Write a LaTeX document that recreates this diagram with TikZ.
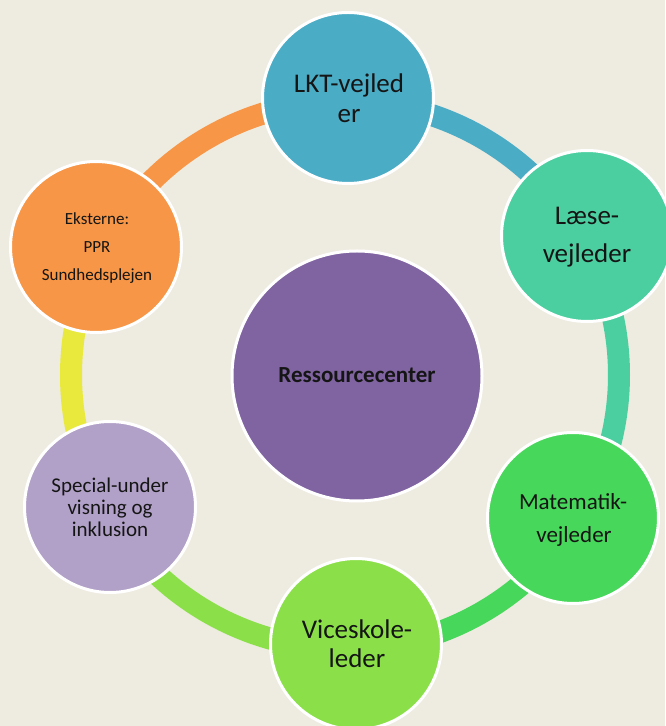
\documentclass[tikz,border=0pt]{standalone}
\usepackage{fontspec}
\setmainfont{Carlito}
\usetikzlibrary{calc}
\definecolor{bgc}{HTML}{EEEBE1}
\definecolor{cblue}{HTML}{4BACC6}
\definecolor{cteal}{HTML}{4BCFA0}
\definecolor{cgreen}{HTML}{47D75A}
\definecolor{clime}{HTML}{8BE04A}
\definecolor{clav}{HTML}{B1A0C7}
\definecolor{corange}{HTML}{F79646}
\definecolor{cpurple}{HTML}{8064A2}
\definecolor{cyellow}{HTML}{E9E83C}
\definecolor{ctext}{HTML}{151515}
\begin{document}
\begin{tikzpicture}[x=1pt,y=1pt,
  ringarc/.style={line width=22pt,line cap=butt},
  bubble/.style={circle,draw=white,line width=3pt,minimum size=171pt,inner sep=0pt},
  txt/.style={anchor=base,inner sep=0pt,text=ctext},
  big/.style={font=\fontsize{27}{30}\selectfont},
  mid/.style={font=\fontsize{23}{26}\selectfont},
  sml/.style={font=\fontsize{21}{24}\selectfont},
  tiny/.style={font=\fontsize{17}{20}\selectfont}]
\fill[bgc] (0,0) rectangle (665,726);
\useasboundingbox (0,0) rectangle (665,726);
\coordinate (ringc) at (345,351);
% ring arcs
\draw[ringarc,corange] ($(ringc)+(150:274)$) arc[start angle=150,end angle=90,radius=274];
\draw[ringarc,cblue] ($(ringc)+(90:274)$) arc[start angle=90,end angle=30,radius=274];
\draw[ringarc,cteal] ($(ringc)+(30:274)$) arc[start angle=30,end angle=-30,radius=274];
\draw[ringarc,cgreen] ($(ringc)+(-30:274)$) arc[start angle=-30,end angle=-90,radius=274];
\draw[ringarc,clime] ($(ringc)+(-90:274)$) arc[start angle=-90,end angle=-150,radius=274];
\draw[ringarc,cyellow] ($(ringc)+(-150:274)$) arc[start angle=-150,end angle=-210,radius=274];
% circles
\node[bubble,fill=cblue] (lkt) at (348,628) {};
\node[bubble,fill=cteal] (laese) at (587,490) {};
\node[bubble,fill=cgreen] (mat) at (573,208) {};
\node[bubble,fill=clime] (vice) at (356,82) {};
\node[bubble,fill=clav] (spec) at (110,219) {};
\node[bubble,fill=corange] (ekst) at (96,479) {};
\node[circle,draw=white,line width=3pt,fill=cpurple,minimum size=250pt,inner sep=0pt] (center) at (357,350) {};
% texts
\node[txt,big] (lkt1) at (349,633) {LKT-vejled};
\node[txt,big] (lkt2) at (349,603) {er};
\node[txt,big] (laese1) at (587,501) {Læse-};
\node[txt,big] (laese2) at (587,463) {vejleder};
\node[txt,mid] (mat1) at (573,216) {Matematik-};
\node[txt,mid] (mat2) at (574,183) {vejleder};
\node[txt,big] (vice1) at (357,87) {Viceskole-};
\node[txt,big] (vice2) at (357,58) {leder};
\node[txt,sml] (spec1) at (110,233) {Special-under};
\node[txt,sml] (spec2) at (110,211) {visning og};
\node[txt,sml] (spec3) at (110,189) {inklusion};
\node[txt,tiny] (ekst1) at (97,501) {Eksterne:};
\node[txt,tiny] (ekst2) at (97,473) {PPR};
\node[txt,tiny] (ekst3) at (97,445) {Sundhedsplejen};
\node[txt,font=\fontsize{23}{26}\selectfont\bfseries] (res) at (357,343) {Ressourcecenter};
\end{tikzpicture}
\end{document}
